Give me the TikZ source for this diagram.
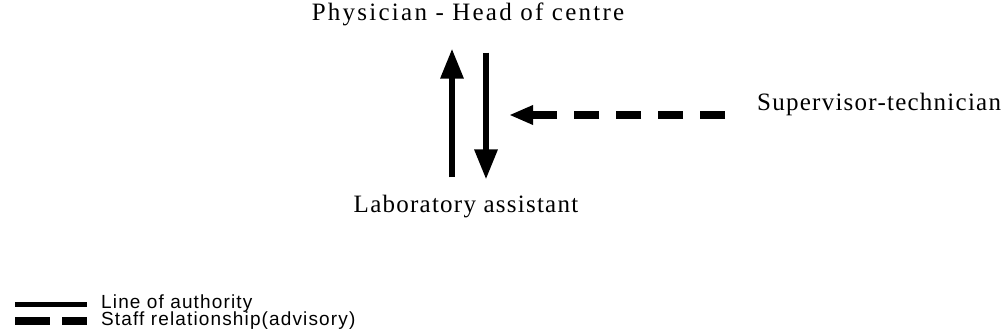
\documentclass[tikz,border=0pt]{standalone}
\usepackage{fontspec}
\setmainfont{Liberation Serif}
\newfontfamily\chartfont[LetterSpace=5]{Liberation Serif}
\newfontfamily\headfont[LetterSpace=9]{Liberation Serif}
\newfontfamily\keyfont[LetterSpace=6]{Liberation Sans}
\usetikzlibrary{arrows.meta}

\begin{document}
\begin{tikzpicture}[
        x=1pt, y=-1pt,
        post/.style={inner sep=0pt, font=\chartfont\fontsize{25}{29}\selectfont},
        keytext/.style={inner sep=0pt, anchor=base west, font=\keyfont\fontsize{19}{22}\selectfont},
        authority/.style={-{Triangle[length=30pt, width=22pt]}, line width=6pt},
        advisory/.style={-{Triangle[length=24pt, width=18pt]}, line width=8pt, dash pattern=on 25pt off 17pt}
    ]
        \useasboundingbox (0,0) rectangle (1004,336);

        \node[post, anchor=base, font=\headfont\fontsize{25}{29}\selectfont] (head) at (468,21) {Physician - Head of centre};
        \node[post, anchor=base] (lab) at (466,213) {Laboratory assistant};
        \node[post, anchor=base west] (super) at (757,111) {Supervisor-technician};
        \coordinate (meet) at (509,115);

        \draw[authority] ([xshift=-14pt, yshift=18pt]lab.north) -- ([xshift=-16pt, yshift=-22pt]head.south);
        \draw[authority] ([xshift=18pt, yshift=-26pt]head.south) -- ([xshift=20pt, yshift=16pt]lab.north);
        \draw[advisory] ([xshift=-32pt, yshift=-4pt]super.base west) -- (meet);

        % key
        \node[keytext] (kauth) at (101,309) {Line of authority};
        \node[keytext] (kstaff) at (101,326) {Staff relationship(advisory)};
        \draw[line width=5pt] ([xshift=-86pt]kauth.west) -- ([xshift=-14pt]kauth.west);
        \draw[line width=8pt, dash pattern=on 35pt off 12pt] ([xshift=-86pt]kstaff.west) -- ([xshift=-14pt]kstaff.west);
    \end{tikzpicture}
\end{document}
